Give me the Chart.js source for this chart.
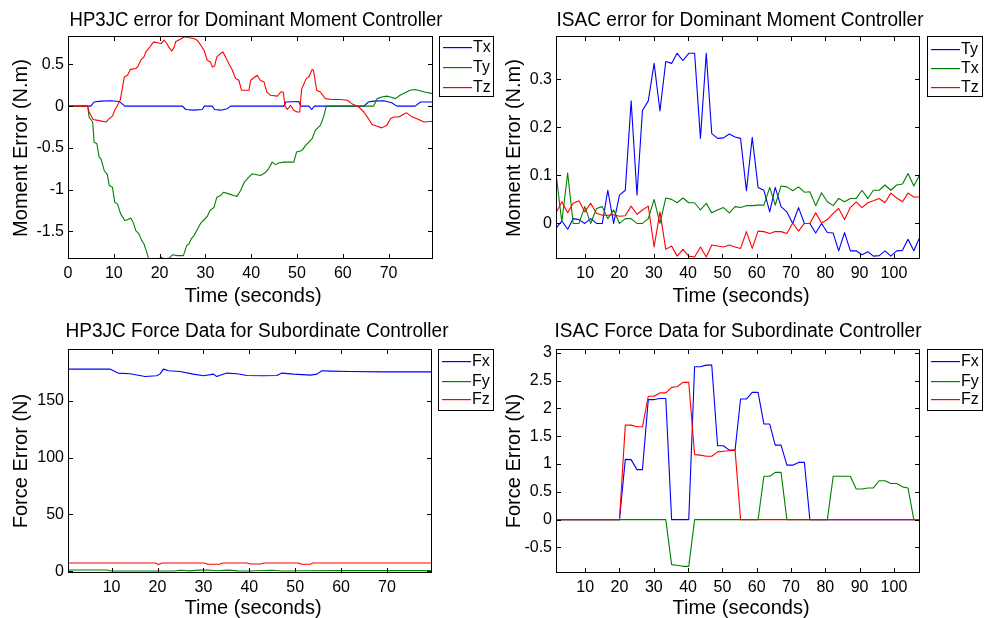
<!DOCTYPE html>
<html>
<head>
<meta charset="utf-8">
<script src="https://cdn.jsdelivr.net/npm/chart.js@4.4.1/dist/chart.umd.min.js"></script>
<style>
html, body { margin: 0; padding: 0; background: #fff; }
#wrap { position: relative; width: 990px; height: 618px; }
#wrap canvas { position: absolute; left: 0; top: 0; }
</style>
</head>
<body>
<div id="wrap">
  <canvas id="c1" width="990" height="618"></canvas>
  <canvas id="c2" width="990" height="618"></canvas>
  <canvas id="c3" width="990" height="618"></canvas>
  <canvas id="c4" width="990" height="618"></canvas>
</div>
<script>
// ---- HP3JC moment error (top left) ----
const hpTxTime = [0, 5.0, 5.7, 7.2, 9.4, 11.2, 11.9, 12.4, 25.0, 25.7,
  27.5, 29.3, 29.8, 31.5, 32.0, 33.3, 34.8, 35.5, 47.1, 47.6,
  50.4, 50.8, 52.6, 53.2, 53.8, 64.6, 65.6, 66.7, 68.9, 70.7,
  71.8, 75.8, 77.0, 79.7];
const hpTxVal = [0, 0, 0.05, 0.06, 0.065, 0.055, 0.025, 0, 0, -0.04,
  -0.048, -0.04, 0, 0, -0.04, -0.048, -0.03, 0, 0, 0.05,
  0.055, 0, 0, -0.04, 0, 0, 0.05, 0.06, 0.065, 0.04,
  0, 0, 0.05, 0.05];

const hpTyTime = [0, 4.3, 4.6, 5.4, 5.7, 6.3, 6.8, 7.2, 7.9, 8.6,
  9.0, 9.7, 10.2, 10.8, 11.5, 12.4, 13.0, 13.7, 14.3, 14.8,
  15.5, 16.1, 16.6, 17.2, 17.7, 18.4, 19.5, 20.3, 21.1, 22.1,
  22.8, 23.9, 25.2, 25.9, 26.4, 26.9, 27.5, 28.3, 29.0, 29.7,
  30.4, 31.0, 31.9, 32.5, 33.3, 34.0, 35.1, 36.2, 36.9, 37.7,
  38.5, 39.5, 40.2, 42.0, 43.0, 43.8, 44.6, 45.3, 46.0, 47.1,
  49.3, 49.9, 51.1, 51.9, 52.6, 53.3, 54.0, 55.1, 55.8, 56.4,
  66.7, 67.5, 68.5, 69.6, 70.4, 71.5, 72.5, 73.6, 74.7, 75.8,
  77.9, 79.7];
const hpTyVal = [0, 0, -0.13, -0.19, -0.43, -0.45, -0.61, -0.63, -0.77, -0.82,
  -0.95, -0.97, -1.15, -1.17, -1.29, -1.37, -1.36, -1.34, -1.40, -1.49,
  -1.53, -1.61, -1.65, -1.75, -1.84, -1.85, -1.84, -1.81, -1.83, -1.82,
  -1.78, -1.79, -1.79, -1.67, -1.65, -1.59, -1.55, -1.47, -1.40, -1.36,
  -1.32, -1.25, -1.21, -1.09, -1.07, -1.03, -1.05, -1.07, -1.08, -1.01,
  -0.91, -0.85, -0.81, -0.83, -0.80, -0.75, -0.67, -0.70, -0.68, -0.67,
  -0.67, -0.55, -0.53, -0.47, -0.43, -0.39, -0.29, -0.23, -0.13, 0,
  0, 0.09, 0.11, 0.12, 0.11, 0.09, 0.13, 0.16, 0.19, 0.20,
  0.17, 0.15];

const hpTzTime = [0, 4.3, 4.6, 5.5, 6.5, 8.3, 9.0, 9.7, 10.2, 10.8,
  11.4, 12.3, 13.0, 13.6, 14.8, 15.3, 15.9, 16.6, 17.0, 17.9,
  18.7, 19.5, 20.3, 21.0, 21.6, 22.1, 22.7, 23.2, 23.5, 24.5,
  25.5, 26.4, 27.5, 28.2, 29.0, 29.7, 30.4, 31.1, 31.5, 32.0,
  32.5, 33.3, 33.8, 34.4, 35.1, 35.9, 36.6, 37.3, 37.9, 39.5,
  39.9, 41.3, 42.0, 42.8, 43.4, 44.2, 45.7, 46.5, 47.0, 47.4,
  47.9, 48.6, 49.3, 50.0, 50.6, 51.0, 52.0, 52.6, 53.3, 53.6,
  54.3, 55.1, 56.2, 57.6, 59.5, 61.0, 62.0, 63.5, 64.6, 65.6,
  66.4, 67.5, 68.5, 69.6, 70.4, 71.1, 72.2, 73.9, 74.9, 76.2,
  77.7, 79.7];
const hpTzVal = [0, 0, -0.07, -0.16, -0.17, -0.19, -0.15, -0.12, -0.05, 0.01,
  0.07, 0.35, 0.37, 0.44, 0.45, 0.48, 0.55, 0.59, 0.65, 0.71,
  0.77, 0.76, 0.75, 0.79, 0.75, 0.70, 0.66, 0.71, 0.77, 0.80,
  0.83, 0.82, 0.81, 0.79, 0.73, 0.67, 0.55, 0.53, 0.47, 0.48,
  0.59, 0.63, 0.65, 0.59, 0.51, 0.43, 0.33, 0.31, 0.19, 0.19,
  0.31, 0.37, 0.31, 0.29, 0.17, 0.13, 0.12, 0.17, 0.17, 0.0,
  -0.04, 0.01, -0.05, -0.07, -0.07, 0.20, 0.33, 0.35, 0.44, 0.43,
  0.19, 0.17, 0.09, 0.08, 0.08, 0.07, 0.03, -0.01, -0.07, -0.15,
  -0.22, -0.24, -0.26, -0.23, -0.15, -0.13, -0.13, -0.08, -0.12, -0.15,
  -0.19, -0.18];

// ---- ISAC sample times (shared by both ISAC plots) ----
const isacTime = [1.5, 3.2, 4.9, 6.5, 8.2, 9.9, 11.6, 13.3, 15.0, 16.6,
  18.3, 20.0, 21.7, 23.4, 25.1, 26.7, 28.4, 30.1, 31.8, 33.5,
  35.2, 36.8, 38.5, 40.2, 41.9, 43.6, 45.3, 46.9, 48.6, 50.3,
  52.0, 53.7, 55.3, 57.0, 58.7, 60.4, 62.1, 63.8, 65.4, 67.1,
  68.8, 70.5, 72.2, 73.9, 75.5, 77.2, 78.9, 80.6, 82.3, 83.9,
  85.6, 87.3, 89.0, 90.7, 92.4, 94.0, 95.7, 97.4, 99.1, 100.8,
  102.5, 104.1, 105.8, 107.5];

// ---- ISAC moment error (top right) ----
const isacTy = [-0.010, 0.005, -0.012, 0.010, 0.008, 0, 0.010, 0, 0, 0.069,
  0, 0.059, 0.069, 0.255, 0.059, 0.235, 0.255, 0.333, 0.234, 0.337,
  0.333, 0.354, 0.339, 0.354, 0.354, 0.177, 0.354, 0.187, 0.177, 0.178,
  0.186, 0.180, 0.177, 0.068, 0.179, 0.075, 0.069, 0.024, 0.075, 0.035,
  0.024, 0, 0.033, 0, 0, -0.020, 0, -0.019, -0.020, -0.057,
  -0.019, -0.057, -0.057, -0.065, -0.059, -0.068, -0.067, -0.057, -0.068, -0.057,
  -0.056, -0.033, -0.057, -0.029];
const isacTx = [0.104, 0.003, 0.105, 0, 0, 0.035, 0, 0.031, 0.035, 0.010,
  0.028, 0, 0.010, 0.010, 0, 0, 0.010, 0.050, 0, 0.053,
  0.050, 0.043, 0.053, 0.043, 0.043, 0.028, 0.042, 0.022, 0.028, 0.033,
  0.022, 0.035, 0.033, 0.037, 0.037, 0.038, 0.038, 0.075, 0.038, 0.078,
  0.076, 0.068, 0.076, 0.065, 0.066, 0.037, 0.064, 0.045, 0.037, 0.052,
  0.045, 0.052, 0.052, 0.069, 0.052, 0.069, 0.069, 0.080, 0.069, 0.080,
  0.082, 0.104, 0.078, 0.101];
const isacTz = [0.022, 0.045, 0.022, 0.042, 0.047, 0.024, 0.042, 0.021, 0.017, 0.017,
  0.018, 0.015, 0.016, 0.036, 0.019, 0.028, 0.036, -0.049, 0.024, -0.054,
  -0.047, -0.068, -0.054, -0.068, -0.070, -0.049, -0.070, -0.045, -0.047, -0.049,
  -0.045, -0.049, -0.052, -0.017, -0.052, -0.016, -0.017, -0.021, -0.017, -0.017,
  -0.021, 0.001, -0.016, 0, 0, 0.022, 0.001, 0.008, 0.021, 0.031,
  0.008, 0.033, 0.045, 0.033, 0.043, 0.047, 0.052, 0.043, 0.063, 0.053,
  0.045, 0.063, 0.055, 0.055];

// ---- HP3JC force data (bottom left) ----
const hpFxTime = [0.5, 9.6, 11.4, 14.0, 17.3, 19.8, 20.5, 21.3, 22.4, 24.9,
  27.8, 30.0, 32.2, 32.9, 35.1, 37.3, 39.5, 43.1, 46.0, 47.1,
  49.7, 53.3, 54.7, 55.8, 57.7, 62.0, 69.3, 79.8];
const hpFxVal = [177.9, 177.9, 174.4, 173.8, 171.4, 172.0, 173.5, 177.9, 176.4, 175.8,
  173.5, 172.0, 173.5, 171.4, 174.4, 173.8, 172.3, 172.0, 172.3, 174.4,
  173.5, 172.6, 173.5, 176.4, 176.1, 175.8, 175.5, 175.5];
const hpFyTime = [0.5, 9.0, 9.8, 23.5, 25.0, 27.0, 29.0, 31.0, 33.0, 35.5,
  37.5, 40.0, 45.0, 47.0, 52.0, 60.0, 79.8];
const hpFyVal = [1.2, 1.2, 0.2, 0.2, 0.9, 0.4, 1.0, 1.1, 0.5, 1.0,
  0.4, 0.3, 0.9, 0.3, 0.5, 0.6, 0.6];
const hpFzTime = [0.5, 19.5, 20.2, 21.0, 30.2, 30.9, 33.5, 34.2, 39.5, 40.2,
  42.5, 43.2, 50.8, 51.3, 53.3, 53.8, 79.8];
const hpFzVal = [7.3, 7.3, 5.9, 7.3, 7.3, 6.2, 6.2, 7.3, 7.3, 6.4,
  6.4, 7.3, 7.3, 6.2, 6.2, 7.3, 7.3];

// ---- ISAC force data (bottom right) ----
const isacFx = [0, 0, 0, 0, 0, 0, 0, 0, 0, 0,
  0, 0, 1.085, 1.08, 0.90, 0.90, 2.16, 2.16, 2.18, 2.18,
  0, 0, 0, 0, 2.75, 2.75, 2.78, 2.78, 1.33, 1.33,
  1.25, 1.25, 2.17, 2.17, 2.29, 2.29, 1.72, 1.72, 1.34, 1.34,
  0.98, 0.98, 1.03, 1.03, 0, 0, 0, 0, 0, 0,
  0, 0, 0, 0, 0, 0, 0, 0, 0, 0,
  0, 0, 0, 0];
const isacFy = [0, 0, 0, 0, 0, 0, 0, 0, 0, 0,
  0, 0, 0, 0, 0, 0, 0, 0, 0, 0,
  -0.81, -0.82, -0.84, -0.84, 0, 0, 0, 0, 0, 0,
  0, 0, 0, 0, 0, 0, 0.78, 0.78, 0.85, 0.85,
  0, 0, 0, 0, 0, 0, 0, 0, 0.78, 0.78,
  0.78, 0.78, 0.55, 0.55, 0.57, 0.57, 0.70, 0.70, 0.65, 0.65,
  0.59, 0.57, 0, 0];
const isacFz = [0, 0, 0, 0, 0, 0, 0, 0, 0, 0,
  0, 0, 1.70, 1.70, 1.67, 1.67, 2.22, 2.22, 2.28, 2.28,
  2.38, 2.39, 2.47, 2.47, 1.17, 1.16, 1.14, 1.14, 1.22, 1.23,
  1.24, 1.25, 0, 0, 0, 0, 0, 0, 0, 0,
  0, 0, 0, 0, 0, 0, 0, 0, 0, 0,
  0, 0, 0, 0, 0, 0, 0, 0, 0, 0,
  0, 0, 0, 0];

const BLUE = '#0000ff', GREEN = '#008000', RED = '#ff0000';
const FONT = '"Liberation Sans", Arial, Helvetica, sans-serif';

Chart.defaults.font.family = FONT;
Chart.defaults.color = '#000';

// legend entries per canvas, kept outside the chart options
const legendItems = {};

// matlab style tick text: 1 instead of 1.0
const tickText = v => String(Math.round(v * 1000) / 1000);

// Matlab-like frame: box, inward ticks on all sides, title, axis labels, legend
const matlabFrame = {
  id: 'matlabFrame',
  afterDraw(chart, args, o) {
    const ctx = chart.ctx;
    const a = chart.chartArea;
    const L = Math.round(a.left), R = Math.round(a.right);
    const T = Math.round(a.top), B = Math.round(a.bottom);
    ctx.save();
    ctx.strokeStyle = '#000';
    ctx.lineWidth = 1;
    ctx.beginPath();
    chart.scales.x.ticks.forEach(t => {
      const px = Math.round(chart.scales.x.getPixelForValue(t.value)) + 0.5;
      ctx.moveTo(px, B); ctx.lineTo(px, B - 5);
      ctx.moveTo(px, T); ctx.lineTo(px, T + 5);
    });
    chart.scales.y.ticks.forEach(t => {
      const py = Math.round(chart.scales.y.getPixelForValue(t.value)) + 0.5;
      ctx.moveTo(L, py); ctx.lineTo(L + 5, py);
      ctx.moveTo(R, py); ctx.lineTo(R - 5, py);
    });
    ctx.stroke();
    ctx.strokeRect(L + 0.5, T + 0.5, R - L - 1, B - T - 1);

    ctx.fillStyle = '#000';
    ctx.font = '20px ' + FONT;
    ctx.textAlign = 'center';
    ctx.textBaseline = 'alphabetic';
    ctx.fillText(o.title.text, o.title.x, o.title.y, o.title.w);
    ctx.fillText(o.xLabel.text, o.xLabel.x, o.xLabel.y);
    ctx.save();
    ctx.translate(o.yLabel.x, o.yLabel.y);
    ctx.rotate(-Math.PI / 2);
    ctx.fillText(o.yLabel.text, 0, 0);
    ctx.restore();

    const lg = o.legend;
    const items = legendItems[chart.canvas.id];
    ctx.fillStyle = '#fff';
    ctx.fillRect(lg.x, lg.y, lg.w, lg.h);
    ctx.strokeStyle = '#000';
    ctx.strokeRect(lg.x + 0.5, lg.y + 0.5, lg.w - 1, lg.h - 1);
    ctx.font = '16px ' + FONT;
    ctx.textAlign = 'left';
    ctx.textBaseline = 'middle';
    items.forEach((it, i) => {
      const ry = Math.round(lg.rows[i]);
      ctx.fillStyle = it.color;
      ctx.fillRect(lg.x + 4, ry, 29, 1.2);
      ctx.fillStyle = '#000';
      ctx.fillText(it.label, lg.x + 34, ry + 1);
    });
    ctx.restore();
  }
};

function makePanel(id, area, xr, yr, yStep, series, frame) {
  const YW = 60, XH = 30;
  legendItems[id] = series.map(s => ({ label: s.label, color: s.color }));
  return new Chart(document.getElementById(id), {
    type: 'line',
    data: {
      datasets: series.map((s, i) => ({
        label: s.label,
        data: s.x.map((x, k) => ({ x: x, y: s.y[k] })),
        borderColor: s.color,
        borderWidth: 1.1,
        borderJoinStyle: 'round',
        pointRadius: 0,
        tension: 0,
        fill: false,
        order: series.length - i
      }))
    },
    options: {
      responsive: false,
      animation: false,
      devicePixelRatio: 1,
      layout: {
        padding: { left: area.l - YW, top: area.t, right: 990 - area.r, bottom: 618 - area.b - XH }
      },
      plugins: { legend: { display: false }, tooltip: { enabled: false }, matlabFrame: frame },
      scales: {
        x: {
          type: 'linear', min: xr[0], max: xr[1],
          grid: { display: false, drawTicks: false }, border: { display: false },
          ticks: { stepSize: 10, includeBounds: false, maxRotation: 0, padding: 5, font: { size: 16 }, callback: tickText },
          afterFit: s => { s.height = XH; }
        },
        y: {
          type: 'linear', min: yr[0], max: yr[1],
          grid: { display: false, drawTicks: false }, border: { display: false },
          ticks: { stepSize: yStep, includeBounds: false, padding: 4, font: { size: 16 }, callback: tickText },
          afterFit: s => { s.width = YW; }
        }
      }
    },
    plugins: [matlabFrame]
  });
}

makePanel('c1', { l: 68, t: 36, r: 433, b: 259 }, [0, 79.7], [-1.83, 0.84], 0.5, [
  { label: 'Tx', color: BLUE, x: hpTxTime, y: hpTxVal },
  { label: 'Ty', color: GREEN, x: hpTyTime, y: hpTyVal },
  { label: 'Tz', color: RED, x: hpTzTime, y: hpTzVal }
], {
  title: { text: 'HP3JC error for Dominant Moment Controller', x: 256, y: 26, w: 373 },
  xLabel: { text: 'Time (seconds)', x: 253, y: 302 },
  yLabel: { text: 'Moment Error (N.m)', x: 27, y: 148 },
  legend: { x: 439, y: 36, w: 55, h: 61, rows: [47, 67, 86.5] }
});

makePanel('c2', { l: 556, t: 36, r: 920, b: 259 }, [1.5, 107.6], [-0.074, 0.39], 0.1, [
  { label: 'Ty', color: BLUE, x: isacTime, y: isacTy },
  { label: 'Tx', color: GREEN, x: isacTime, y: isacTx },
  { label: 'Tz', color: RED, x: isacTime, y: isacTz }
], {
  title: { text: 'ISAC error for Dominant Moment Controller', x: 740, y: 26, w: 367 },
  xLabel: { text: 'Time (seconds)', x: 741, y: 302 },
  yLabel: { text: 'Moment Error (N.m)', x: 520, y: 148 },
  legend: { x: 927, y: 36, w: 56, h: 61, rows: [49, 67.5, 86.5] }
});

makePanel('c3', { l: 68, t: 349, r: 432, b: 573 }, [0.5, 79.8], [-1.5, 195.6], 50, [
  { label: 'Fx', color: BLUE, x: hpFxTime, y: hpFxVal },
  { label: 'Fy', color: GREEN, x: hpFyTime, y: hpFyVal },
  { label: 'Fz', color: RED, x: hpFzTime, y: hpFzVal }
], {
  title: { text: 'HP3JC Force Data for Subordinate Controller', x: 257, y: 337, w: 383 },
  xLabel: { text: 'Time (seconds)', x: 253, y: 614 },
  yLabel: { text: 'Force Error (N)', x: 27, y: 461 },
  legend: { x: 438, y: 349, w: 56, h: 62, rows: [361, 380.5, 399] }
});

makePanel('c4', { l: 556, t: 349, r: 920, b: 573 }, [1.5, 107.6], [-0.96, 3.07], 0.5, [
  { label: 'Fx', color: BLUE, x: isacTime, y: isacFx },
  { label: 'Fy', color: GREEN, x: isacTime, y: isacFy },
  { label: 'Fz', color: RED, x: isacTime, y: isacFz }
], {
  title: { text: 'ISAC Force Data for Subordinate Controller', x: 738, y: 337, w: 367 },
  xLabel: { text: 'Time (seconds)', x: 741, y: 614 },
  yLabel: { text: 'Force Error (N)', x: 520, y: 461 },
  legend: { x: 927, y: 349, w: 56, h: 62, rows: [361, 380.5, 399] }
});
</script>
</body>
</html>
